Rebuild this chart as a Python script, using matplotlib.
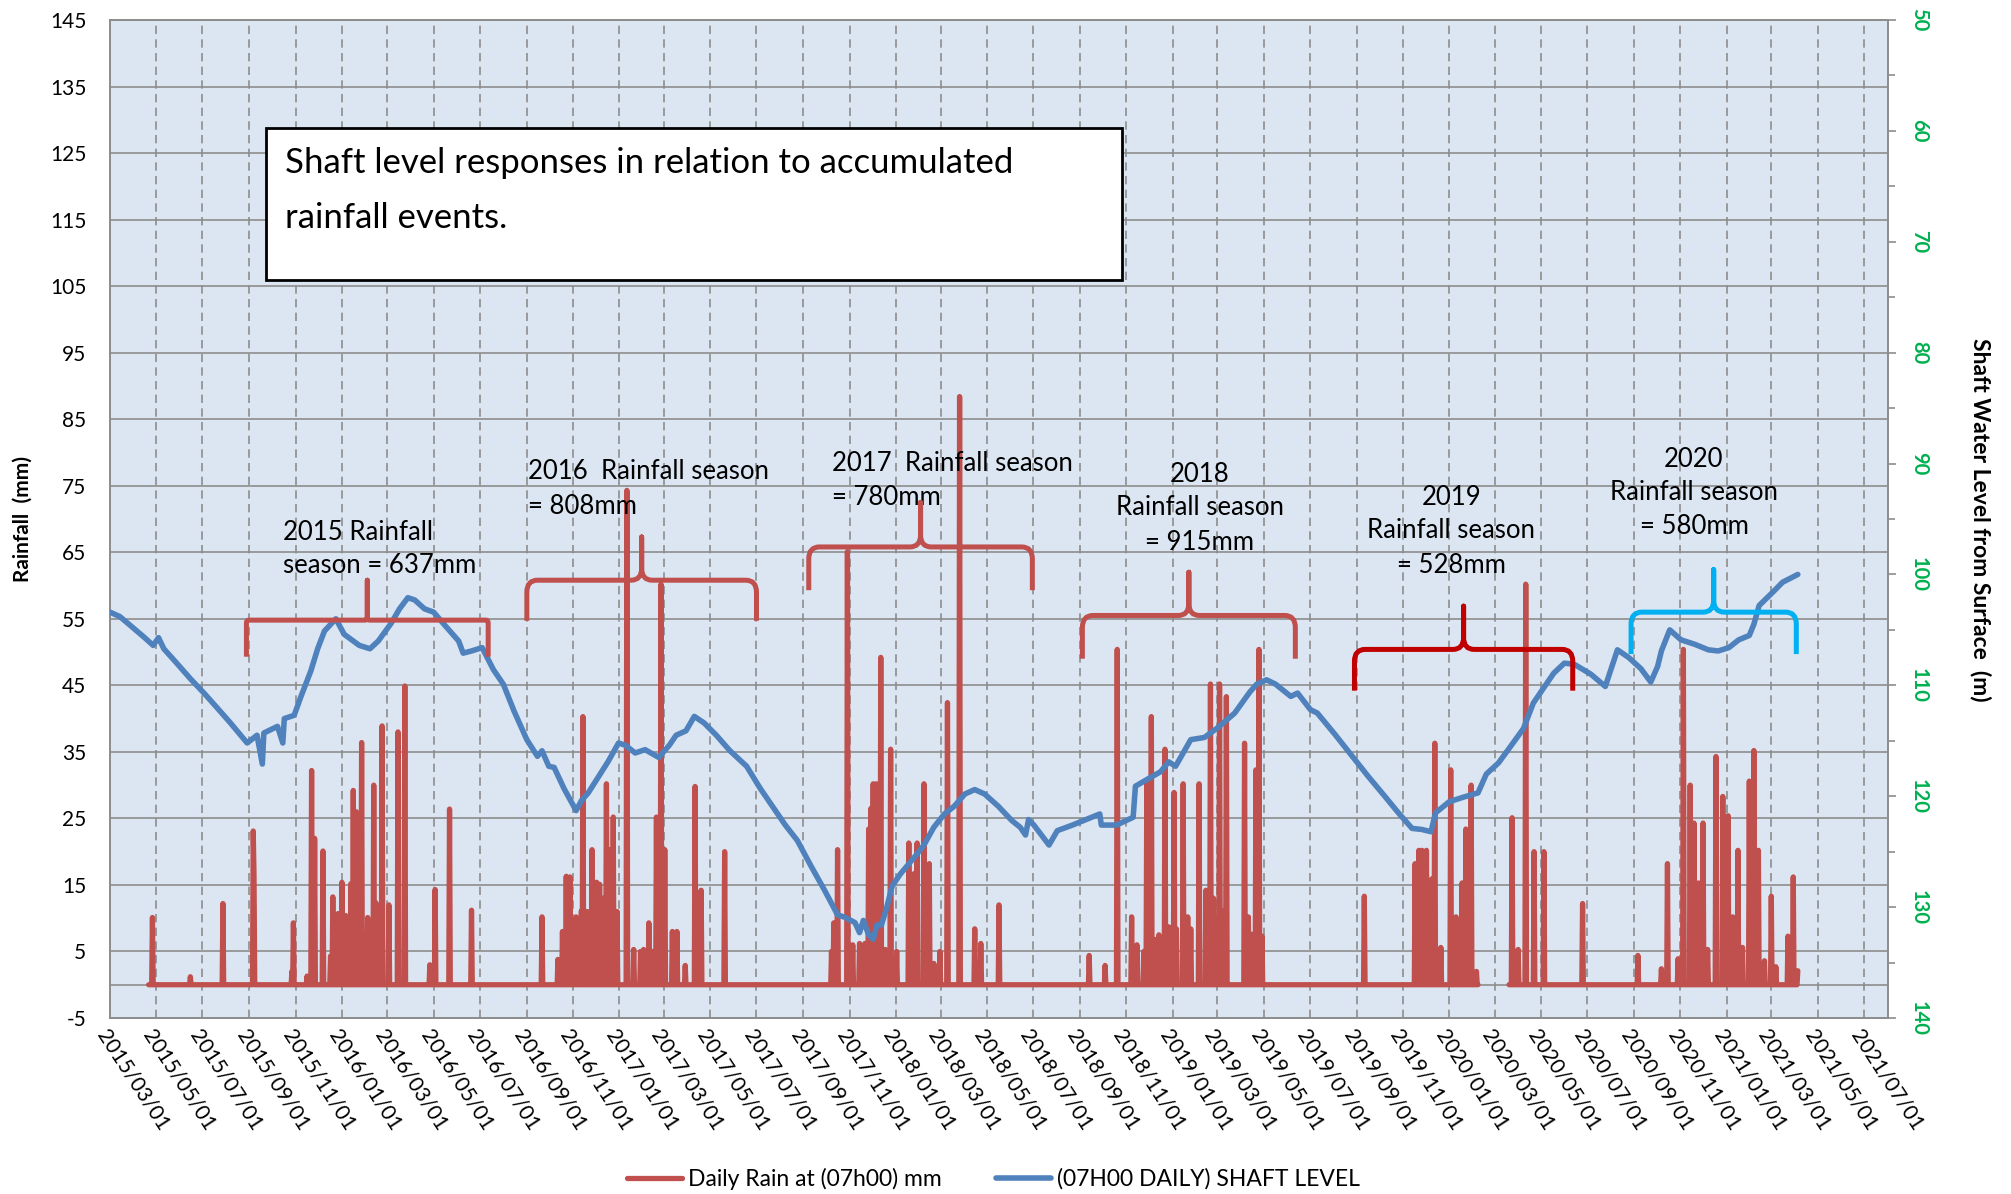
import matplotlib
matplotlib.use("Agg")
import matplotlib.pyplot as plt
import matplotlib.dates as mdates
from matplotlib.path import Path
from matplotlib.patches import PathPatch, Rectangle
import numpy as np
import pandas as pd

plt.rcParams['font.family'] = ['Lato', 'DejaVu Sans']

# ---------------- data ----------------
level_dates = [
    "2015-03-01", "2015-03-14", "2015-04-14", "2015-04-27", "2015-05-04", "2015-05-11", "2015-05-28",
    "2015-06-15", "2015-07-03", "2015-07-20", "2015-08-07", "2015-08-29", "2015-09-11", "2015-09-18",
    "2015-09-20", "2015-10-08", "2015-10-15", "2015-10-17", "2015-10-30", "2015-11-08", "2015-11-21",
    "2015-11-30", "2015-12-09", "2015-12-24", "2016-01-04", "2016-01-24", "2016-02-07", "2016-02-18",
    "2016-03-06", "2016-03-17", "2016-03-28", "2016-04-06", "2016-04-19", "2016-05-01", "2016-05-16",
    "2016-06-03", "2016-06-09", "2016-06-20", "2016-07-04", "2016-07-19", "2016-08-01", "2016-08-15",
    "2016-09-01", "2016-09-15", "2016-09-21", "2016-09-30", "2016-10-07", "2016-10-20", "2016-11-05",
    "2016-11-12", "2016-11-21", "2016-12-04", "2016-12-17", "2016-12-31", "2017-01-09", "2017-01-22",
    "2017-02-04", "2017-02-22", "2017-03-08", "2017-03-17", "2017-03-30", "2017-04-10", "2017-04-23",
    "2017-05-09", "2017-05-27", "2017-06-18", "2017-07-06", "2017-07-24", "2017-08-08", "2017-08-24",
    "2017-09-11", "2017-09-29", "2017-10-16", "2017-10-25", "2017-11-08", "2017-11-14", "2017-11-19",
    "2017-11-26", "2017-12-02", "2017-12-07", "2017-12-13", "2017-12-20", "2017-12-27", "2018-01-07",
    "2018-01-18", "2018-01-29", "2018-02-07", "2018-02-20", "2018-03-06", "2018-03-19", "2018-04-02",
    "2018-04-15", "2018-04-28", "2018-05-16", "2018-06-03", "2018-06-14", "2018-06-21", "2018-06-25",
    "2018-07-02", "2018-07-22", "2018-08-02", "2018-08-22", "2018-09-09", "2018-09-27", "2018-09-29",
    "2018-10-19", "2018-11-10", "2018-11-13", "2018-11-28", "2018-12-16", "2018-12-27", "2019-01-05",
    "2019-01-25", "2019-02-12", "2019-03-02", "2019-03-24", "2019-04-13", "2019-04-22", "2019-05-05",
    "2019-05-17", "2019-06-06", "2019-06-15", "2019-07-02", "2019-07-11", "2019-08-03", "2019-08-25",
    "2019-09-16", "2019-10-08", "2019-10-26", "2019-11-13", "2019-11-26", "2019-12-08", "2019-12-14",
    "2020-01-01", "2020-01-19", "2020-02-08", "2020-02-19", "2020-03-06", "2020-03-21", "2020-04-08",
    "2020-04-21", "2020-05-05", "2020-05-18", "2020-06-01", "2020-06-14", "2020-07-06", "2020-07-25",
    "2020-08-10", "2020-08-25", "2020-09-10", "2020-09-23", "2020-10-02", "2020-10-07", "2020-10-18",
    "2020-11-02", "2020-11-20", "2020-12-08", "2020-12-21", "2021-01-04", "2021-01-17", "2021-01-31",
    "2021-02-06", "2021-02-13", "2021-03-03", "2021-03-16", "2021-04-05",
]
level_m = [
    103.4, 103.8, 105.6, 106.4, 105.7, 106.7, 108.0,
    109.4, 110.7, 112.0, 113.4, 115.2, 114.5, 117.1,
    114.3, 113.7, 115.2, 113.0, 112.7, 111.0, 108.7,
    106.7, 105.1, 104.0, 105.4, 106.4, 106.7, 106.0,
    104.4, 103.1, 102.1, 102.3, 103.1, 103.4, 104.6,
    106.0, 107.1, 106.9, 106.6, 108.6, 109.9, 112.3,
    114.9, 116.4, 115.9, 117.3, 117.4, 119.3, 121.3,
    120.4, 119.7, 118.3, 116.9, 115.2, 115.4, 116.1,
    115.8, 116.5, 115.4, 114.5, 114.1, 112.8, 113.4,
    114.5, 115.9, 117.3, 119.3, 121.1, 122.6, 124.0,
    126.3, 128.5, 130.7, 130.9, 131.4, 132.3, 131.2,
    132.5, 132.9, 131.6, 131.6, 130.0, 128.1, 127.0,
    126.1, 125.2, 124.4, 122.8, 121.6, 120.9, 119.8,
    119.4, 119.8, 120.9, 122.2, 122.8, 123.5, 122.1,
    122.6, 124.4, 123.1, 122.6, 122.1, 121.6, 122.6,
    122.6, 121.9, 119.1, 118.5, 117.8, 116.9, 117.3,
    114.9, 114.7, 113.8, 112.5, 110.6, 109.9, 109.5,
    109.9, 111.0, 110.7, 112.2, 112.5, 114.4, 116.3,
    118.2, 120.0, 121.5, 122.9, 123.0, 123.2, 121.5,
    120.5, 120.1, 119.7, 118.0, 117.0, 115.6, 113.9,
    111.6, 110.2, 108.9, 108.0, 108.1, 109.0, 110.1,
    106.8, 107.5, 108.5, 109.7, 108.3, 106.9, 105.0,
    105.9, 106.3, 106.8, 106.9, 106.6, 105.9, 105.5,
    104.5, 102.8, 101.6, 100.7, 100.0,
]

rain_dates = [
    "2015-04-26", "2015-06-15", "2015-07-28", "2015-09-06", "2015-09-07", "2015-10-27", "2015-10-29",
    "2015-11-16", "2015-11-22", "2015-11-26", "2015-12-07", "2015-12-17", "2015-12-20", "2015-12-27",
    "2016-01-01", "2016-01-06", "2016-01-13", "2016-01-16", "2016-01-20", "2016-01-27", "2016-02-04",
    "2016-02-12", "2016-02-15", "2016-02-23", "2016-03-03", "2016-03-15", "2016-03-24", "2016-04-26",
    "2016-05-03", "2016-05-22", "2016-06-20", "2016-09-21", "2016-10-12", "2016-10-18", "2016-10-23",
    "2016-10-28", "2016-11-05", "2016-11-12", "2016-11-14", "2016-11-20", "2016-11-26", "2016-12-02",
    "2016-12-06", "2016-12-11", "2016-12-15", "2016-12-20", "2016-12-24", "2016-12-29", "2017-01-11",
    "2017-01-20", "2017-01-29", "2017-02-02", "2017-02-09", "2017-02-14", "2017-02-19", "2017-02-25",
    "2017-03-02", "2017-03-12", "2017-03-18", "2017-03-29", "2017-04-11", "2017-04-19", "2017-05-20",
    "2017-10-08", "2017-10-11", "2017-10-16", "2017-10-29", "2017-11-05", "2017-11-14", "2017-11-21",
    "2017-11-26", "2017-11-29", "2017-12-02", "2017-12-06", "2017-12-12", "2017-12-18", "2017-12-25",
    "2018-01-02", "2018-01-18", "2018-01-25", "2018-01-29", "2018-02-07", "2018-02-14", "2018-02-20",
    "2018-02-28", "2018-03-10", "2018-03-26", "2018-04-15", "2018-04-23", "2018-05-17", "2018-09-13",
    "2018-10-04", "2018-10-20", "2018-11-08", "2018-11-15", "2018-11-24", "2018-11-28", "2018-12-04",
    "2018-12-09", "2018-12-14", "2018-12-22", "2018-12-27", "2019-01-03", "2019-01-06", "2019-01-15",
    "2019-01-21", "2019-01-25", "2019-02-05", "2019-02-14", "2019-02-20", "2019-02-24", "2019-03-04",
    "2019-03-08", "2019-03-13", "2019-04-06", "2019-04-11", "2019-04-15", "2019-04-21", "2019-04-25",
    "2019-04-29", "2019-09-11", "2019-11-17", "2019-11-22", "2019-11-26", "2019-12-02", "2019-12-09",
    "2019-12-13", "2019-12-21", "2020-01-03", "2020-01-10", "2020-01-18", "2020-01-23", "2020-01-30",
    "2020-02-06", "2020-03-24", "2020-04-01", "2020-04-11", "2020-04-22", "2020-05-05", "2020-06-25",
    "2020-09-06", "2020-10-07", "2020-10-15", "2020-10-29", "2020-11-05", "2020-11-14", "2020-11-19",
    "2020-11-25", "2020-12-01", "2020-12-07", "2020-12-18", "2020-12-27", "2021-01-03", "2021-01-09",
    "2021-01-16", "2021-01-22", "2021-01-31", "2021-02-06", "2021-02-12", "2021-02-20", "2021-03-01",
    "2021-03-07", "2021-03-23", "2021-03-30", "2021-04-05",
]
rain_mm = [
    10.1, 1.2, 12.2, 23.1, 16.5, 2.0, 9.3,
    1.3, 32.2, 22.0, 20.1, 4.3, 13.2, 10.7,
    15.4, 10.4, 15.2, 29.2, 26.0, 36.4, 10.1,
    30.0, 12.3, 38.9, 12.0, 38.0, 44.9, 3.0,
    14.3, 26.4, 11.2, 10.2, 3.8, 8.0, 16.3,
    16.2, 10.2, 11.1, 40.3, 11.0, 20.3, 15.4,
    15.1, 13.0, 30.2, 20.3, 25.2, 11.0, 74.3,
    5.3, 5.0, 5.3, 9.3, 5.0, 25.2, 60.2,
    20.3, 8.0, 8.0, 2.9, 29.8, 14.2, 20.0,
    5.0, 9.3, 20.3, 65.1, 6.0, 6.2, 6.2,
    23.4, 26.5, 30.2, 30.2, 49.2, 5.3, 35.4,
    5.0, 21.3, 16.7, 21.3, 30.2, 18.2, 3.2,
    5.0, 42.4, 88.4, 8.4, 6.2, 12.0, 4.4,
    2.9, 50.4, 10.2, 6.0, 5.0, 30.2, 40.3,
    6.8, 7.5, 35.4, 8.7, 28.9, 8.4, 30.2,
    10.2, 8.4, 30.2, 14.2, 45.2, 13.0, 45.2,
    11.1, 43.3, 36.3, 10.2, 7.6, 32.3, 50.4,
    7.3, 13.3, 18.2, 20.2, 20.2, 20.2, 15.9,
    36.3, 5.6, 32.3, 10.2, 15.3, 23.4, 30.0,
    2.0, 25.1, 5.3, 60.2, 20.0, 20.0, 12.2,
    4.4, 2.4, 18.2, 3.9, 50.4, 30.0, 24.3,
    15.3, 24.3, 5.3, 34.3, 28.3, 25.4, 10.2,
    20.2, 5.6, 30.6, 35.2, 20.2, 3.6, 13.3,
    2.7, 7.3, 16.2, 2.1,
]
rain_start = "2015-04-21"
rain_end = "2021-04-05"
rain_gap = ("2020-02-09", "2020-03-19")

season_years = ["2015", "2016", "2017", "2018", "2019", "2020"]
season_totals_mm = [637, 808, 780, 915, 528, 580]
season_start = ["2015-08-28", "2016-09-01", "2017-09-08", "2018-09-04", "2019-08-29", "2020-08-28"]
season_end = ["2016-07-12", "2017-07-01", "2018-06-30", "2019-06-12", "2020-06-12", "2021-04-03"]

x_ticks = pd.date_range("2015-03-01", "2021-07-01", freq="2MS")
rain_ticks = np.arange(-5, 146, 10)
level_major = np.arange(50, 141, 10)
level_minor = np.arange(55, 140, 10)

# ---------------- styling ----------------
RED = '#C0504D'
BLUE = '#4F81BD'
GRID = '#8C8C8C'
GREEN = '#00B050'

fig = plt.figure(figsize=(20.11, 11.94), dpi=100)
ax = fig.add_axes([110 / 2011, 1 - 1018 / 1194, 1778 / 2011, 998 / 1194])
ax.set_facecolor('#DCE6F2')
ax2 = ax.twinx()

# rainfall daily series
days = pd.date_range(rain_start, rain_end, freq='D')
rain = pd.Series(0.0, index=days)
rain.loc[pd.to_datetime(rain_dates)] = rain_mm
rain.loc[rain_gap[0]:rain_gap[1]] = np.nan

ax.axhline(0, color=GRID, lw=1.2, zorder=1.5)
ax.plot(rain.index, rain.values, color=RED, lw=3.8, solid_joinstyle='round',
        solid_capstyle='round', zorder=3, label='Daily Rain at (07h00) mm')
ax2.plot(pd.to_datetime(level_dates), level_m, color=BLUE, lw=4.0,
         solid_joinstyle='round', solid_capstyle='round', zorder=3,
         label='(07H00 DAILY) SHAFT LEVEL')

ax.set_xlim(pd.Timestamp("2015-03-01"), pd.Timestamp("2021-08-02"))
ax.set_ylim(-5, 145)
ax2.set_ylim(140, 50)

ax.set_xticks(x_ticks)
ax.set_xticklabels([d.strftime('%Y/%m/%d') for d in x_ticks], rotation=-57,
                   ha='left', va='top', rotation_mode='anchor', fontsize=15)
ax.set_yticks(rain_ticks)
ax.set_yticklabels([str(v) for v in rain_ticks], fontsize=15)
ax.tick_params(axis='x', length=0, pad=6)
ax.tick_params(axis='y', length=0, pad=17)

ax.set_axisbelow(True)
ax.yaxis.grid(True, color=GRID, lw=1.2, ls='-')
ax.xaxis.grid(True, color=GRID, lw=1.2, ls=(0, (5.0, 3.2)))

ax2.set_yticks(level_major)
ax2.set_yticks(level_minor, minor=True)
ax2.set_yticklabels([str(v) for v in level_major], fontsize=14.5, fontweight='bold',
                    color=GREEN, rotation=-90, va='center')
ax2.tick_params(axis='y', which='major', length=6, width=1.2, color=GRID, pad=9)
ax2.tick_params(axis='y', which='minor', length=5, width=1.2, color=GRID)

for a in (ax, ax2):
    for s in a.spines.values():
        s.set_color(GRID)
        s.set_linewidth(1.2)

# braces marking each rainfall season
brace_style = [
    dict(yh=54.8, ye=49.3, yp=60.8, color=RED, rx=3, ry=0.4),
    dict(yh=60.8, ye=54.7, yp=67.3, color=RED, rx=14, ry=1.8),
    dict(yh=65.8, ye=59.3, yp=72.5, color=RED, rx=14, ry=1.8),
    dict(yh=55.5, ye=49.0, yp=62.0, color=RED, rx=14, ry=1.8),
    dict(yh=50.4, ye=44.2, yp=56.9, color='#C00000', rx=14, ry=1.8),
    dict(yh=56.0, ye=49.7, yp=62.4, color='#00B0F0', rx=14, ry=1.8),
]
for s0, s1, st in zip(season_start, season_end, brace_style):
    x0 = mdates.date2num(pd.Timestamp(s0))
    x1 = mdates.date2num(pd.Timestamp(s1))
    xc = (x0 + x1) / 2
    rx, ry = st['rx'], st['ry']
    yh, ye, yp = st['yh'], st['ye'], st['yp']
    verts = [(x0, ye), (x0, yh - ry), (x0, yh), (x0 + rx, yh),
             (xc - rx, yh), (xc, yh), (xc, yh + ry), (xc, yp),
             (xc, yh + ry), (xc, yh), (xc + rx, yh),
             (x1 - rx, yh), (x1, yh), (x1, yh - ry), (x1, ye)]
    codes = [Path.MOVETO, Path.LINETO, Path.CURVE3, Path.CURVE3,
             Path.LINETO, Path.CURVE3, Path.CURVE3, Path.LINETO,
             Path.LINETO, Path.CURVE3, Path.CURVE3,
             Path.LINETO, Path.CURVE3, Path.CURVE3, Path.LINETO]
    ax2.add_patch(PathPatch(Path(verts, codes), transform=ax.transData, fill=False,
                            edgecolor=st['color'], lw=3.6, capstyle='butt',
                            joinstyle='round', zorder=5))

# season labels
ann_fs = 18.5
def put(date, y, text, ha):
    ax.text(pd.Timestamp(date), y, text, ha=ha, va='center', fontsize=ann_fs, zorder=6)

put("2015-10-15", 68.0, f"{season_years[0]} Rainfall", 'left')
put("2015-10-15", 63.0, f"season = {season_totals_mm[0]}mm", 'left')
put("2016-09-03", 77.1, f"{season_years[1]}  Rainfall season", 'left')
put("2016-09-03", 71.9, f"= {season_totals_mm[1]}mm", 'left')
put("2017-10-09", 78.4, f"{season_years[2]}  Rainfall season", 'left')
put("2017-10-09", 73.2, f"= {season_totals_mm[2]}mm", 'left')
for date, ys, i in [("2019-02-06", (76.7, 71.7, 66.5), 3),
                    ("2020-01-04", (73.2, 68.2, 63.0), 4),
                    ("2020-11-19", (79.0, 74.0, 68.8), 5)]:
    put(date, ys[0], season_years[i], 'center')
    put(date, ys[1], "Rainfall season", 'center')
    put(date, ys[2], f"= {season_totals_mm[i]}mm", 'center')

# title box
ax.add_patch(Rectangle((0.0875, 0.7395), 0.569 - 0.0875, 0.8918 - 0.7395,
                       transform=ax.transAxes, facecolor='white', edgecolor='black',
                       lw=2.0, zorder=7))
ax.text(0.0983, 0.8568, "Shaft level responses in relation to accumulated",
        transform=ax.transAxes, ha='left', va='center', fontsize=25, zorder=8)
ax.text(0.0983, 0.8016, "rainfall events.", transform=ax.transAxes,
        ha='left', va='center', fontsize=25, zorder=8)

# axis titles
fig.text(23 / 2011, 0.565, "Rainfall  (mm)", rotation=90, ha='center', va='center',
         fontsize=15, fontweight='bold')
fig.text(1981 / 2011, 0.565, "Shaft Water Level from Surface  (m)", rotation=270,
         ha='center', va='center', fontsize=16.5, fontweight='bold')

# legend
h1, l1 = ax.get_legend_handles_labels()
h2, l2 = ax2.get_legend_handles_labels()
fig.legend(h1 + h2, l1 + l2, loc='center', bbox_to_anchor=(0.494, 0.013), ncol=2,
           frameon=False, fontsize=16.5, handlelength=2.4, handletextpad=0.25,
           columnspacing=2.4)

fig.savefig("out.png", dpi=100)
